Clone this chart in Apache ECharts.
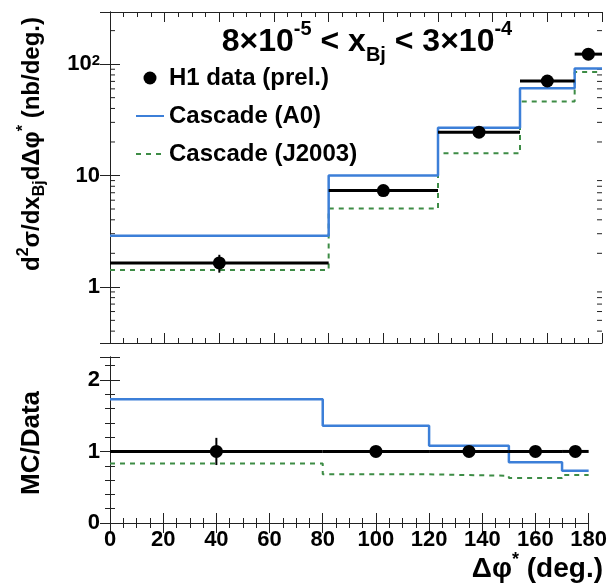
<!DOCTYPE html>
<html><head><meta charset="utf-8">
<script src="https://cdn.jsdelivr.net/npm/echarts@6/dist/echarts.min.js"></script>
<style>html,body{margin:0;padding:0;background:#fff}#c{width:610px;height:584px}</style>
</head><body><div id="c"></div>
<script>
// ---- data ----
const binEdges = [0, 80, 120, 150, 170, 180];
const dataX = [40, 100, 135, 160, 175];
const dataY = [1.64, 7.32, 24.5, 70.6, 123];
const dataErr = [0.3, 0.3, 0.8, 2, 4];
const cascadeA0 = [2.88, 10.0, 26.9, 60.8, 91.4];
const cascadeJ2003 = [1.42, 5.04, 15.8, 46.1, 85];
const ratioData = [1, 1, 1, 1, 1];
const ratioErr = [0.19, 0.02, 0.02, 0.02, 0.02];
const ratioA0 = [1.73, 1.36, 1.08, 0.85, 0.73];
const ratioJ2003 = [0.83, 0.68, 0.66, 0.63, 0.67];
const xTickLabels = [0, 20, 40, 60, 80, 100, 120, 140, 160, 180];
const yTopTickLabels = [1, 10, 100];
const yTopMinorTicks = [0.4, 0.5, 0.6, 0.7, 0.8, 0.9, 2, 3, 4, 5, 6, 7, 8, 9, 20, 30, 40, 50, 60, 70, 80, 90, 200];
const yBottomTickLabels = [0, 1, 2];

const FONT = '"Liberation Sans", Arial, Helvetica, sans-serif';
const BLUE = '#3c7fd8';
const GREEN = '#3d8c45';
const AXC = '#222';

function stepData(vals) {
  const d = vals.map((v, i) => [binEdges[i], v]);
  d.push([binEdges[binEdges.length - 1], vals[vals.length - 1]]);
  return d;
}
function binData(ys, errs) {
  return ys.map((y, i) => [binEdges[i], binEdges[i + 1], dataX[i], y, errs[i]]);
}
function renderBins(params, api) {
  const lo = api.value(0), hi = api.value(1), x = api.value(2), y = api.value(3), e = api.value(4);
  const pL = api.coord([lo, y]), pR = api.coord([hi, y]);
  const pT = api.coord([x, y + e]), pB = api.coord([x, y - e]);
  return {type: 'group', children: [
    {type: 'line', shape: {x1: pL[0], y1: pL[1], x2: pR[0], y2: pR[1]}, style: {stroke: '#000', lineWidth: 3}},
    {type: 'line', shape: {x1: pT[0], y1: pT[1], x2: pB[0], y2: pB[1]}, style: {stroke: '#000', lineWidth: 2}}
  ]};
}
function renderMinor(params, api) {
  const v = api.value(1);
  const pl = api.coord([binEdges[0], v]);
  const pr = api.coord([binEdges[binEdges.length - 1], v]);
  return {type: 'group', children: [
    {type: 'line', shape: {x1: pl[0], y1: pl[1], x2: pl[0] + 5, y2: pl[1]}, style: {stroke: AXC, lineWidth: 1}},
    {type: 'line', shape: {x1: pr[0] - 5, y1: pr[1], x2: pr[0], y2: pr[1]}, style: {stroke: AXC, lineWidth: 1}}
  ]};
}

const tickLabelStyle = {fontFamily: FONT, fontSize: 22, fontWeight: 'bold', color: '#000'};

function xAx(grid, pos, labels) {
  return {
    type: 'value', gridIndex: grid, position: pos, min: 0, max: 180, interval: 20,
    axisLine: {show: true, lineStyle: {color: AXC, width: 1}},
    axisTick: {show: true, inside: true, length: 10, lineStyle: {color: AXC}},
    minorTick: {show: true, splitNumber: 4, length: 5, lineStyle: {color: AXC}},
    splitLine: {show: false},
    axisLabel: labels ? Object.assign({show: true, margin: 6,
      formatter: v => (xTickLabels.indexOf(v) >= 0 ? String(v) : '')}, tickLabelStyle) : {show: false}
  };
}
function yLog(pos, labels) {
  return {
    type: 'log', logBase: 10, gridIndex: 0, position: pos, min: 0.313, max: 294,
    axisLine: {show: true, lineStyle: {color: AXC, width: 1}},
    axisTick: {show: true, inside: true, length: 10, lineStyle: {color: AXC}},
    minorTick: {show: false},
    splitLine: {show: false},
    axisLabel: labels ? Object.assign({show: true, margin: 10, showMinLabel: false, showMaxLabel: false,
      formatter: v => {
        const e = Math.round(Math.log10(v));
        const t = yTopTickLabels.find(k => Math.abs(Math.log10(k) - Math.log10(v)) < 1e-6);
        if (t === undefined) return '';
        return e >= 2 ? '10{s|' + e + '}' : String(t);
      },
      rich: {s: {fontFamily: FONT, fontSize: 15, fontWeight: 'bold', color: '#000', verticalAlign: 'top', lineHeight: 14}}
    }, tickLabelStyle) : {show: false}
  };
}
function yLin(pos, labels) {
  return {
    type: 'value', gridIndex: 1, position: pos, min: 0, max: 2.32, interval: 1,
    axisLine: {show: true, lineStyle: {color: AXC, width: 1}},
    axisTick: {show: true, inside: true, length: 10, lineStyle: {color: AXC}},
    minorTick: {show: true, splitNumber: 5, length: 5, lineStyle: {color: AXC}},
    splitLine: {show: false},
    axisLabel: labels ? Object.assign({show: true, margin: 10, showMaxLabel: false,
      formatter: v => (yBottomTickLabels.indexOf(v) >= 0 ? String(v) : '')}, tickLabelStyle) : {show: false}
  };
}

const chart = echarts.init(document.getElementById('c'), null, {renderer: 'canvas'});
chart.setOption({
  animation: false,
  backgroundColor: '#fff',
  grid: [
    {left: 110, top: 12, width: 492, height: 331},
    {left: 110, top: 357, width: 492, height: 166}
  ],
  xAxis: [xAx(0, 'bottom', false), xAx(0, 'top', false), xAx(1, 'bottom', true), xAx(1, 'top', false)],
  yAxis: [yLog('left', true), yLog('right', false), yLin('left', true), yLin('right', false)],
  legend: {
    left: 135, top: 64, padding: 0, orient: 'vertical', itemWidth: 28, itemHeight: 13, itemGap: 10,
    textStyle: {fontFamily: FONT, fontSize: 24, fontWeight: 'bold', color: '#000', lineHeight: 28},
    data: [
      {name: 'H1 data (prel.)', icon: 'circle'},
      {name: 'Cascade (A0)', itemStyle: {opacity: 0}},
      {name: 'Cascade (J2003)', itemStyle: {opacity: 0}}
    ]
  },
  graphic: [
    {type: 'text', x: 367, y: 42, silent: true,
     style: {text: '8×10{sup|-5} < x{sub|Bj} < 3×10{sup|-4}', textAlign: 'center', textVerticalAlign: 'middle',
       fontFamily: FONT, fontSize: 32, fontWeight: 'bold', fill: '#000', lineHeight: 46,
       rich: {
         sup: {fontFamily: FONT, fontSize: 20, fontWeight: 'bold', fill: '#000', verticalAlign: 'top', lineHeight: 27},
         sub: {fontFamily: FONT, fontSize: 20, fontWeight: 'bold', fill: '#000', verticalAlign: 'bottom', lineHeight: 12}
       }}},
    {type: 'text', x: 32, y: 144, rotation: Math.PI / 2, silent: true,
     style: {text: 'd{sup|2}σ/dx{sub|Bj}dΔφ{sup|*} (nb/deg.)', textAlign: 'center', textVerticalAlign: 'middle',
       fontFamily: FONT, fontSize: 24, fontWeight: 'bold', fill: '#000', lineHeight: 32,
       rich: {
         sup: {fontFamily: FONT, fontSize: 16, fontWeight: 'bold', fill: '#000', verticalAlign: 'top', lineHeight: 18},
         sub: {fontFamily: FONT, fontSize: 16, fontWeight: 'bold', fill: '#000', verticalAlign: 'bottom', lineHeight: 12}
       }}},
    {type: 'text', x: 32, y: 443, rotation: Math.PI / 2, silent: true,
     style: {text: 'MC/Data', textAlign: 'center', textVerticalAlign: 'middle',
       fontFamily: FONT, fontSize: 26, fontWeight: 'bold', fill: '#000'}},
    {type: 'text', x: 603, y: 569, silent: true,
     style: {text: 'Δφ{sup|*} (deg.)', textAlign: 'right', textVerticalAlign: 'middle',
       fontFamily: FONT, fontSize: 28, fontWeight: 'bold', fill: '#000', lineHeight: 36,
       rich: {sup: {fontFamily: FONT, fontSize: 18, fontWeight: 'bold', fill: '#000', verticalAlign: 'top', lineHeight: 22}}}}
  ],
  series: [
    {name: 'Cascade (A0)', type: 'line', xAxisIndex: 0, yAxisIndex: 0, step: 'end', symbol: 'none',
     data: stepData(cascadeA0), lineStyle: {color: BLUE, width: 2.5}, itemStyle: {color: BLUE}, z: 3},
    {name: 'Cascade (J2003)', type: 'line', xAxisIndex: 0, yAxisIndex: 0, step: 'end', symbol: 'none',
     data: stepData(cascadeJ2003), lineStyle: {color: GREEN, width: 2, type: [5, 5]}, itemStyle: {color: GREEN}, z: 2},
    {name: 'H1 bins', type: 'custom', xAxisIndex: 0, yAxisIndex: 0, renderItem: renderBins,
     data: binData(dataY, dataErr), encode: {x: [0, 1, 2], y: [3]}, z: 4, silent: true},
    {name: 'H1 data (prel.)', type: 'scatter', xAxisIndex: 0, yAxisIndex: 0, symbol: 'circle', symbolSize: 13,
     data: dataX.map((x, i) => [x, dataY[i]]), itemStyle: {color: '#000', opacity: 1}, z: 5},
    {name: 'minor log ticks', type: 'custom', xAxisIndex: 0, yAxisIndex: 0, renderItem: renderMinor,
     data: yTopMinorTicks.map(v => [0, v]), encode: {x: 0, y: 1}, silent: true, z: 1},

    {name: 'Cascade (A0)', type: 'line', xAxisIndex: 2, yAxisIndex: 2, step: 'end', symbol: 'none',
     data: stepData(ratioA0), lineStyle: {color: BLUE, width: 2.5}, itemStyle: {color: BLUE}, z: 3},
    {name: 'Cascade (J2003)', type: 'line', xAxisIndex: 2, yAxisIndex: 2, step: 'end', symbol: 'none',
     data: stepData(ratioJ2003), lineStyle: {color: GREEN, width: 2, type: [5, 5]}, itemStyle: {color: GREEN}, z: 2},
    {name: 'ratio bins', type: 'custom', xAxisIndex: 2, yAxisIndex: 2, renderItem: renderBins,
     data: binData(ratioData, ratioErr), encode: {x: [0, 1, 2], y: [3]}, z: 4, silent: true},
    {name: 'H1 data (prel.)', type: 'scatter', xAxisIndex: 2, yAxisIndex: 2, symbol: 'circle', symbolSize: 13,
     data: dataX.map((x, i) => [x, ratioData[i]]), itemStyle: {color: '#000', opacity: 1}, z: 5}
  ]
});
</script></body></html>
